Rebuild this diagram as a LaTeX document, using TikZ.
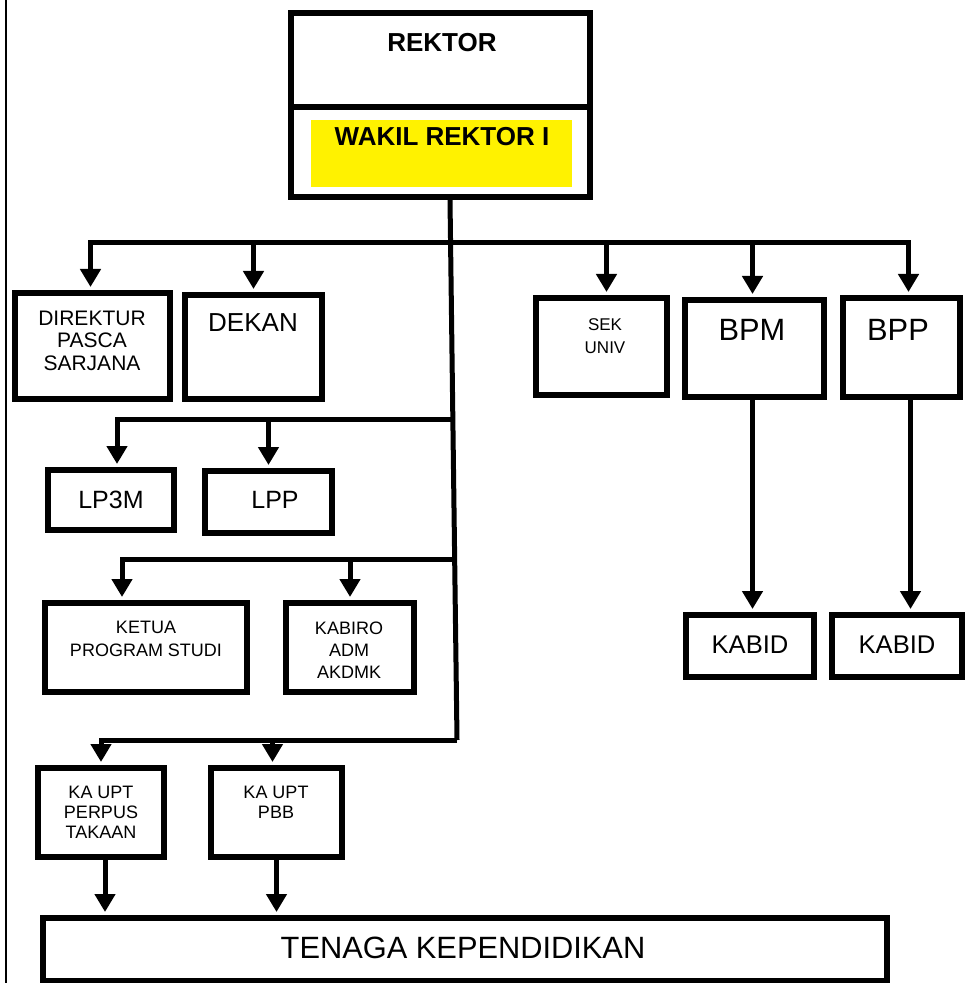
\documentclass[tikz,border=0pt]{standalone}
\usepackage{fontspec}
\setmainfont{Liberation Sans}
\usetikzlibrary{arrows.meta}

\tikzset{
  unit/.style={draw=black, fill=white, line width=3pt, inner sep=0pt},
  link/.style={line width=2.5pt},
  arr/.style={line width=2.5pt, -{Triangle[length=9pt,width=10pt]}, shorten >=1.5pt},
  lbl/.style={align=center, inner sep=0pt},
  head/.style={lbl, font=\bfseries\fontsize{13pt}{15pt}\selectfont},
  small/.style={lbl, font=\fontsize{9pt}{11.5pt}\selectfont},
  mid/.style={lbl, font=\fontsize{13pt}{15pt}\selectfont},
  big/.style={lbl, font=\fontsize{15.4pt}{18pt}\selectfont}
}

\begin{document}
\begin{tikzpicture}[x=0.5pt, y=-0.5pt]
\useasboundingbox (0,0) rectangle (973,983);
\draw[line width=1pt] (6,0) -- (6,983);

\node[unit, minimum width=149.5pt, minimum height=47pt] (rektor) at (440.5,60) {};
\node[unit, minimum width=149.5pt, minimum height=45pt] (wakil) at (440.5,152) {};
\node[fill=yellow, inner sep=0pt, minimum width=130.5pt, minimum height=33.5pt] (hilite) at (441.5,153.5) {};
\node[head] (rektor-t) at (442,43) {REKTOR};
\node[head] (wakil-t) at (442,137) {WAKIL REKTOR I};

\node[unit, minimum width=77.5pt, minimum height=53pt] (direktur) at (92.5,346) {};
\node[unit, minimum width=68.5pt, minimum height=52pt] (dekan) at (253.5,347) {};
\node[unit, minimum width=65.5pt, minimum height=48.5pt] (sek) at (601.5,346.5) {};
\node[unit, minimum width=69.5pt, minimum height=48.5pt] (bpm) at (754.5,348.5) {};
\node[unit, minimum width=58.5pt, minimum height=49.5pt] (bpp) at (901.5,347.5) {};
\node[small, font=\fontsize{10.5pt}{11.25pt}\selectfont] (direktur-t) at (92,340.5) {DIREKTUR\\PASCA\\SARJANA};
\node[mid] (dekan-t) at (253,323) {DEKAN};
\node[small, font=\fontsize{8.5pt}{11.5pt}\selectfont] (sek-t) at (605,336) {SEK\\UNIV};
\node[big] (bpm-t) at (752,330) {BPM};
\node[big] (bpp-t) at (898,330) {BPP};

\node[unit, minimum width=63pt, minimum height=30pt] (lp3m) at (111,500) {};
\node[unit, minimum width=63.5pt, minimum height=31pt] (lpp) at (268.5,502) {};
\node[mid, font=\fontsize{12.5pt}{15pt}\selectfont] (lp3m-t) at (111,500) {LP3M};
\node[mid, font=\fontsize{12.5pt}{15pt}\selectfont] (lpp-t) at (275,500) {LPP};

\node[unit, minimum width=101pt, minimum height=44.5pt] (ketua) at (146,647.5) {};
\node[unit, minimum width=64pt, minimum height=44.5pt] (kabiro) at (350,647.5) {};
\node[small] (ketua-t) at (146,638.5) {KETUA\\PROGRAM STUDI};
\node[small, font=\fontsize{9pt}{11pt}\selectfont] (kabiro-t) at (349,650) {KABIRO\\ADM\\AKDMK};

\node[unit, minimum width=64pt, minimum height=31pt] (kabid1) at (750,646) {};
\node[unit, minimum width=65pt, minimum height=31pt] (kabid2) at (897,646) {};
\node[mid, font=\fontsize{12.8pt}{15pt}\selectfont] (kabid1-t) at (750,645) {KABID};
\node[mid, font=\fontsize{12.8pt}{15pt}\selectfont] (kabid2-t) at (897,645) {KABID};

\node[unit, minimum width=63pt, minimum height=44.5pt] (perpus) at (101,812.5) {};
\node[unit, minimum width=65.5pt, minimum height=44.5pt] (pbb) at (276.5,812.5) {};
\node[small, font=\fontsize{9pt}{10pt}\selectfont] (perpus-t) at (101,812) {KA UPT\\PERPUS\\TAKAAN};
\node[small, font=\fontsize{9pt}{10pt}\selectfont] (pbb-t) at (276,802) {KA UPT\\PBB};

\node[unit, minimum width=422pt, minimum height=31.5pt] (tenaga) at (465,949.5) {};
\node[big] (tenaga-t) at (463,948) {TENAGA KEPENDIDIKAN};

\coordinate (j1) at (450,243);
\coordinate (j2) at (452,419);
\coordinate (j3) at (455,559);
\coordinate (j4) at (457,740);

\draw[link] (wakil.south -| j1) -- (j4);

\draw[arr] (j1) -| ([xshift=-1pt]direktur.north);
\draw[arr] (dekan.north |- j1) -- (dekan.north);
\draw[arr] ([xshift=2.5pt]sek.north |- j1) -- ([xshift=2.5pt]sek.north);
\draw[arr] ([xshift=-1pt]bpm.north |- j1) -- ([xshift=-1pt]bpm.north);
\draw[arr] (j1) -| ([xshift=3.5pt]bpp.north);

\draw[arr] (j2) -| ([xshift=3pt]lp3m.north);
\draw[arr] (lpp.north |- j2) -- (lpp.north);

\draw[arr] (j3) -| ([xshift=-12pt]ketua.north);
\draw[arr] (kabiro.north |- j3) -- (kabiro.north);

\draw[arr] (j4) -| (perpus.north);
\draw[arr] ([xshift=-2pt]pbb.north |- j4) -- ([xshift=-2pt]pbb.north);

\draw[arr] ([xshift=-1pt]bpm.south) -- ([xshift=-1pt]bpm.south |- kabid1.north);
\draw[arr] ([xshift=4.5pt]bpp.south) -- ([xshift=4.5pt]bpp.south |- kabid2.north);

\draw[arr] ([xshift=2pt]perpus.south) -- ([xshift=2pt]perpus.south |- tenaga.north);
\draw[arr] (pbb.south) -- (pbb.south |- tenaga.north);
\end{tikzpicture}
\end{document}
